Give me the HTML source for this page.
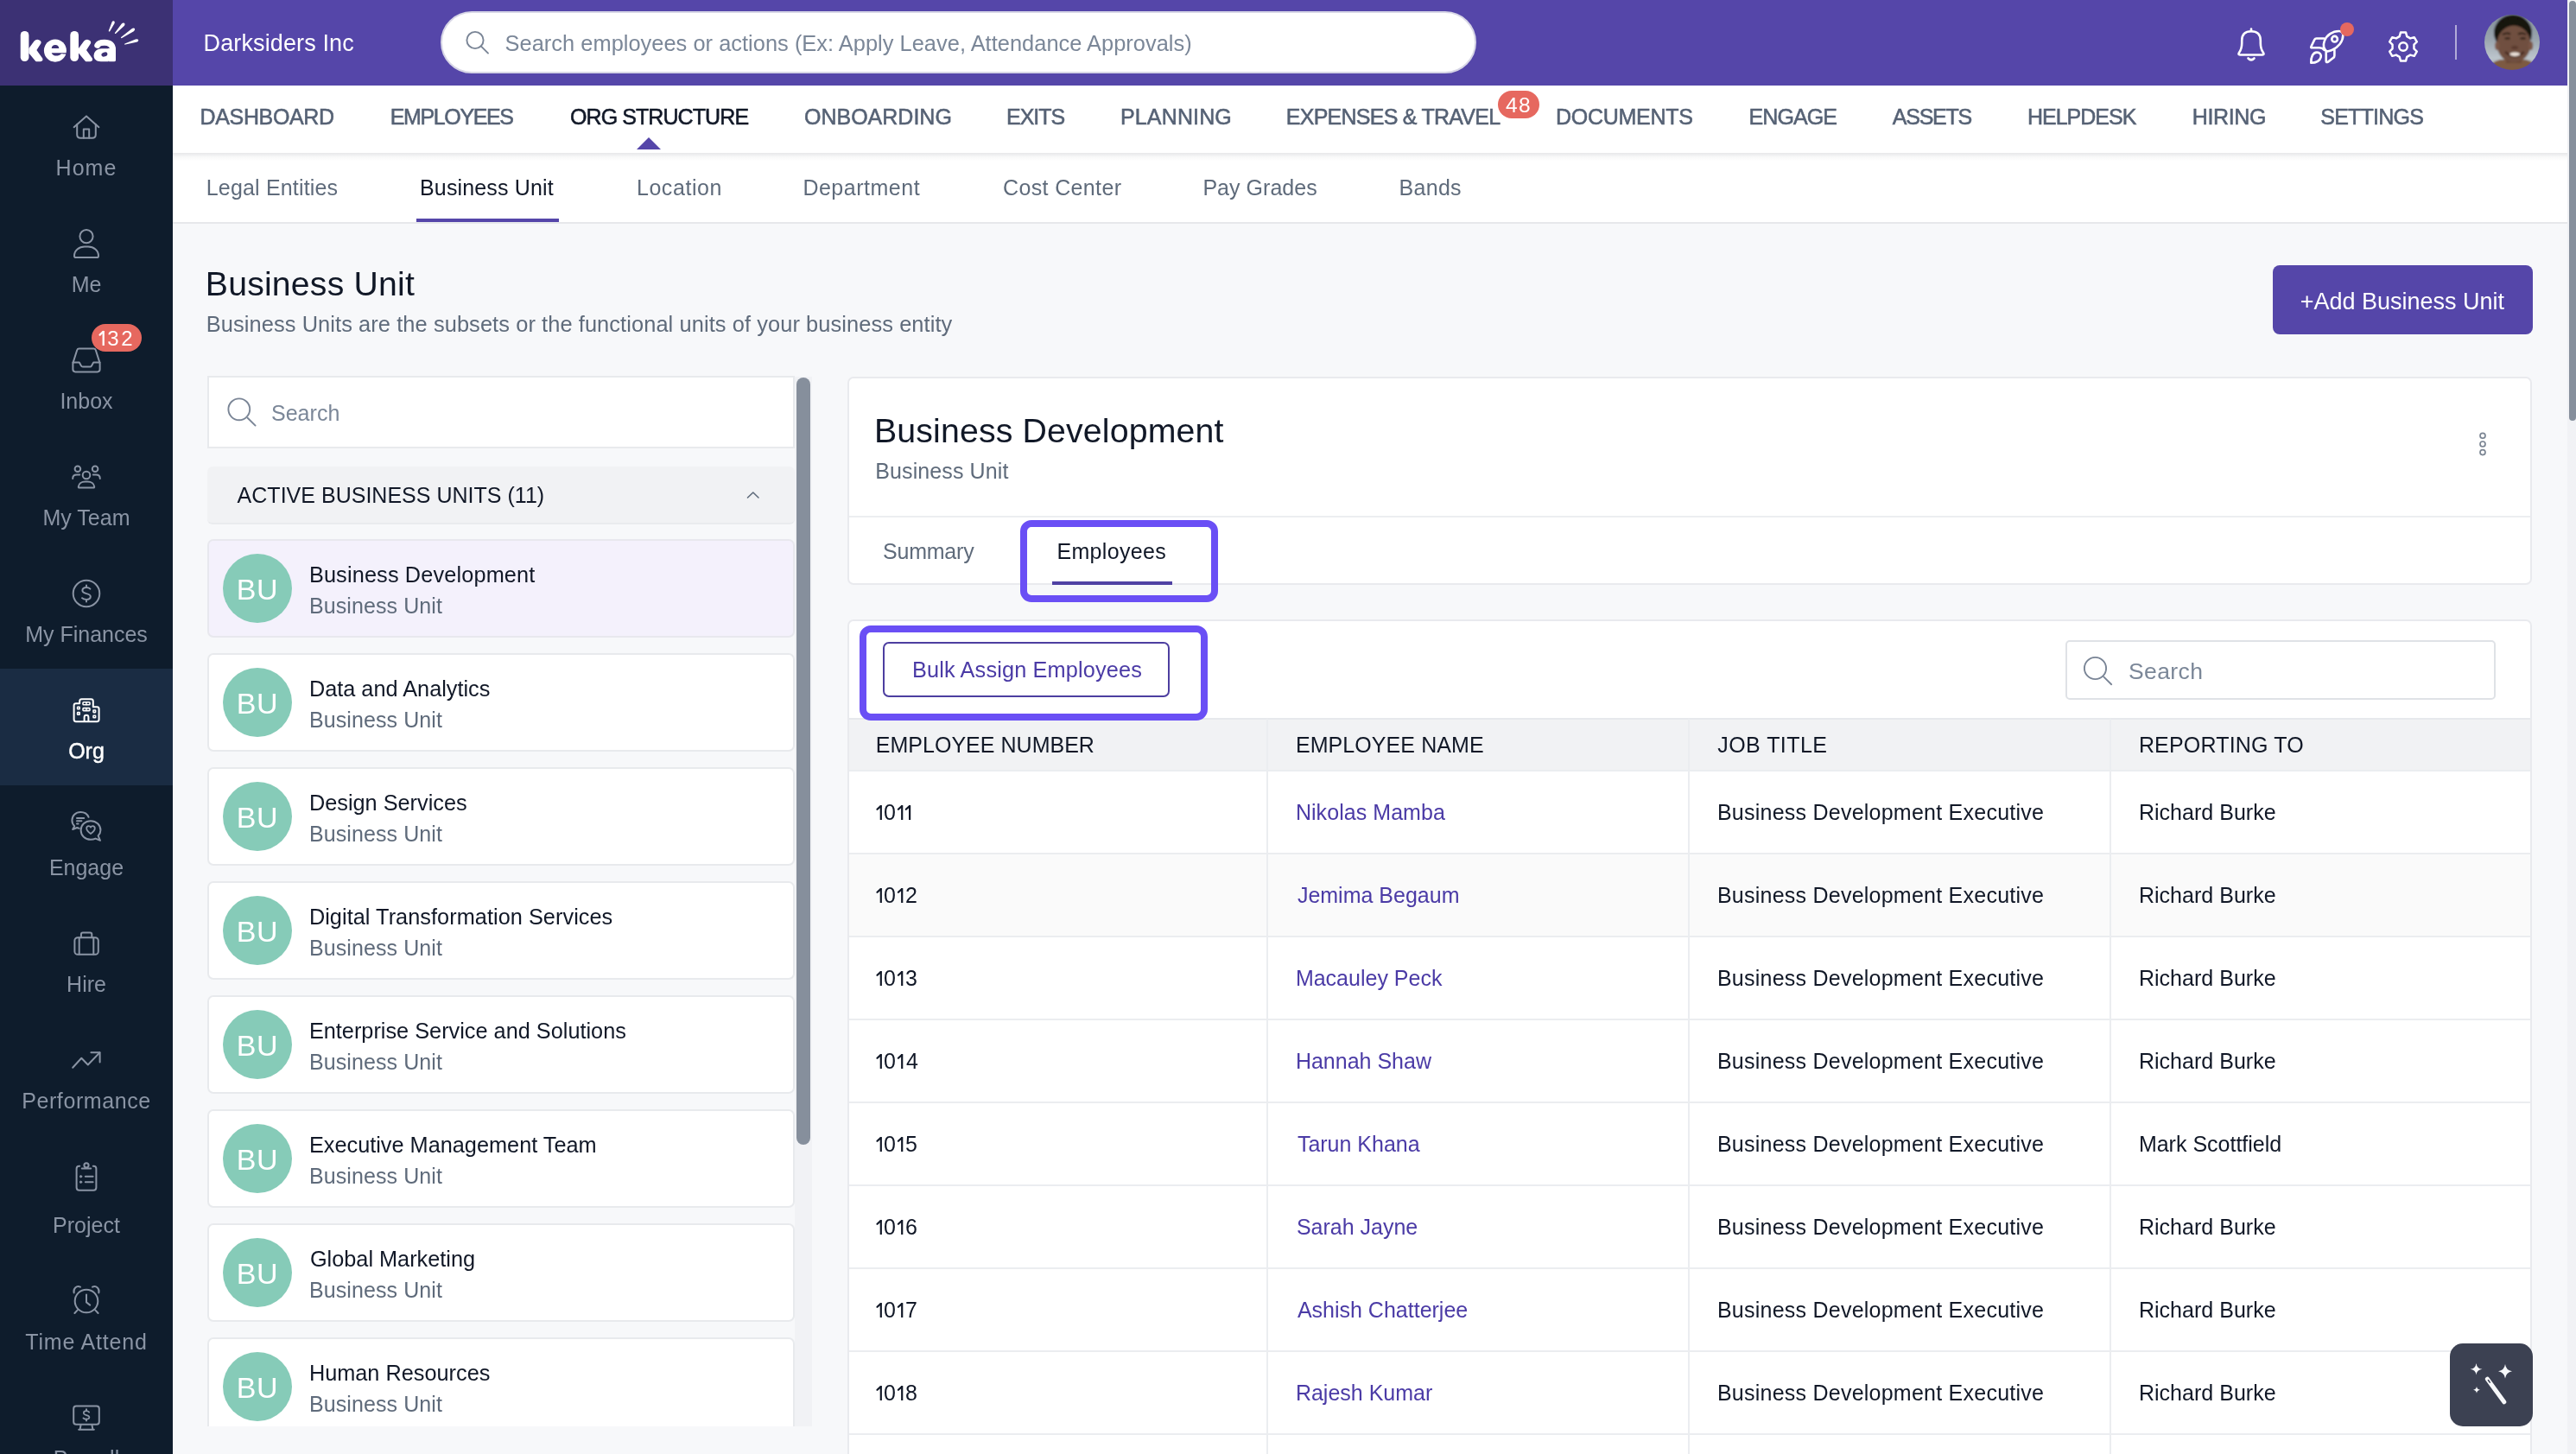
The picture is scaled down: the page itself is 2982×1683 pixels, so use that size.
<!DOCTYPE html>
<html><head><meta charset="utf-8"><title>Business Unit - Keka</title>
<style>
html,body{margin:0;padding:0;}
body{width:2982px;height:1683px;position:relative;overflow:hidden;background:#f7f8fa;font-family:"Liberation Sans",sans-serif;}
.t{position:absolute;white-space:pre;font-family:"Liberation Sans",sans-serif;}
.z3{z-index:3;}
.nav{z-index:3;font-size:25px;line-height:25px;letter-spacing:-0.45px;-webkit-text-stroke:0.55px currentColor;}
</style></head><body>
<div id="root" style="position:absolute;left:0;top:0;width:2982px;height:1683px;overflow:hidden;will-change:transform;background:#f7f8fa">
<div style="position:absolute;left:200px;top:99px;width:2772px;height:1584px;background:#f7f8fa"></div>
<div style="position:absolute;left:0px;top:0px;width:200px;height:99px;background:#3c3174"></div>
<div style="position:absolute;left:200px;top:0px;width:2772px;height:99px;background:#5546a9"></div>
<svg style="position:absolute;left:0;top:0" width="200" height="99" viewBox="0 0 200 99">
<g fill="#fff">
<rect x="23.7" y="35.9" width="9.7" height="35.2" rx="4.85"/>
<path d="M33.4,55.9 L39.6,47.6 Q41.6,45.3 44.3,45.9 Q48.6,47.2 47.4,50.2 L42.4,58.1 L49.2,67.6 Q50.4,70.8 46.8,71.3 L43.2,71.3 Q41.6,71.2 40.9,70.4 L33.4,61.4 Z"/>
<rect x="81.3" y="35.9" width="9.7" height="35.2" rx="4.85"/>
<path d="M91,55.9 L97.2,47.6 Q99.2,45.3 101.9,45.9 Q106.2,47.2 105,50.2 L100,58.1 L106.8,67.6 Q108,70.8 104.4,71.3 L100.8,71.3 Q99.2,71.2 98.5,70.4 L91,61.4 Z"/>
<ellipse cx="63.9" cy="58.6" rx="13" ry="13.1"/>
<path d="M108.6,64.6 C108.6,60 112,56.5 117.5,56.3 H125.5 V71.3 H116.6 C111.8,71.3 108.6,68.6 108.6,64.6 Z"/>
<path d="M125,56 H134 V69.4 Q134,71.3 132,71.3 H127 Q125.2,71.3 125,69.4 Z"/>
</g>
<path d="M112.8,52.4 C113.8,50.3 116.4,49.2 121,49.2 C127,49.2 130.5,52 130.5,57.2 V60" fill="none" stroke="#fff" stroke-width="7" stroke-linecap="round"/>
<g fill="#3c3174">
<path d="M59.7,56.1 H68.3 C68.3,53.6 66.4,52 64,52 C61.6,52 59.7,53.6 59.7,56.1 Z"/>
<path d="M59.7,61.2 H79 V62.4 H73.5 C72,62.4 71.2,62.1 70.6,62.5 C69.2,63.9 67.4,64.6 65.3,64.6 C62.6,64.6 60.6,63.3 59.7,61.2 Z"/>
<ellipse cx="120.9" cy="63" rx="3.6" ry="2.5" transform="rotate(-22 120.9 63)"/>
</g>
<g fill="#fff">
<path d="M126.2,36.6 Q125.6,36.6 125.8,35.6 L129.6,25.6 Q130.6,23.6 132.2,24.6 Q133.2,25.4 132.6,27 L127.2,36.2 Q126.8,36.7 126.2,36.6 Z"/>
<path d="M133.2,39 Q132.6,38.8 133,38 L140.6,27.8 Q142.4,25.8 144,26.8 Q145.2,28 144,29.8 L134.2,38.8 Q133.7,39.2 133.2,39 Z"/>
<path d="M140.2,44.1 Q139.6,43.8 140.2,43.1 L152.2,33.4 Q154.6,31.6 156,33 Q156.8,34.6 154.8,36.2 L141.2,44 Q140.6,44.3 140.2,44.1 Z"/>
<path d="M144.3,51.4 Q143.8,50.9 144.5,50.5 L156.8,45.6 Q159.6,44.8 160.2,46.4 Q160.4,48 158,48.8 L145.2,51.6 Q144.6,51.7 144.3,51.4 Z"/>
</g>
</svg>
<div class="t" style="left:235.50px;top:37.00px;font-size:27px;line-height:27px;color:#fff;letter-spacing:0.131px;text-align:left;">Darksiders Inc</div>
<div style="position:absolute;left:510px;top:13px;width:1199px;height:72px;background:#fff;border:2px solid #d7d6e6;border-radius:36px;box-sizing:border-box"></div>
<svg style="position:absolute;left:530px;top:28px" width="44" height="44" viewBox="530 28 44 44">
<g fill="none" stroke="#7a8596" stroke-width="1.9" stroke-linecap="round">
<circle cx="550" cy="46.5" r="9.6"/><path d="M557,53.6 L565,61.6"/></g></svg>
<div class="t" style="left:584.60px;top:38.00px;font-size:25.4px;line-height:25.4px;color:#7b8798;letter-spacing:0.029px;text-align:left;">Search employees or actions (Ex: Apply Leave, Attendance Approvals)</div>
<svg style="position:absolute;left:2570px;top:0" width="402" height="99" viewBox="2570 0 402 99">
<g fill="none" stroke="#fff" stroke-width="2.6" stroke-linecap="round" stroke-linejoin="round">
<path d="M2606,33.5 V36"/>
<path d="M2593,63.5 H2619 Q2621.5,63.5 2620,61 Q2616.8,56.5 2616.8,50 V47 Q2616.8,36.3 2606,36.3 Q2595.2,36.3 2595.2,47 V50 Q2595.2,56.5 2592,61 Q2590.5,63.5 2593,63.5 Z"/>
<path d="M2602.5,67.5 Q2606,71 2609.5,67.5"/>
<path d="M2693.3,59.6 C2689.6,56.4 2689.2,51.8 2690.8,47.4 C2693.3,40.6 2700.2,36 2707.6,36 C2710.6,36 2712.3,37.8 2712.3,40.8 C2712.3,48.2 2706.8,55 2699.4,58 C2697.3,58.9 2695.3,59.4 2693.3,59.6 Z"/>
<circle cx="2702.6" cy="45.2" r="3.3"/>
<path d="M2690.2,44.5 H2681.6 Q2680,44.5 2679.3,45.9 L2675.4,54 Q2674.8,55.3 2676.3,55.3 H2684.8 Q2688.4,55.4 2690.6,57.8"/>
<path d="M2702.4,57.8 V64.6 Q2702.4,66.2 2700.9,67 L2695,71.6 Q2692.7,72.9 2692.7,70.6 V60"/>
<path d="M2675.3,72.7 C2675.1,66.2 2677.4,60.6 2682,60.6 C2685.4,60.6 2687.5,63.1 2686.6,66.3 C2685.2,70.9 2680.2,72.7 2675.3,72.7 Z"/>
</g>
<circle cx="2717" cy="34" r="8" fill="#e6685f"/>
<g fill="none" stroke="#fff" stroke-width="2.6" stroke-linejoin="round" transform="translate(2782 54) scale(0.95) translate(-2782 -54.5)">
<path d="M2778.8,37.2 L2785.2,37.2 L2786.5,42 L2790.6,44.4 L2795.4,43.1 L2798.6,48.6 L2795.1,52.1 L2795.1,56.9 L2798.6,60.4 L2795.4,65.9 L2790.6,64.6 L2786.5,67 L2785.2,71.8 L2778.8,71.8 L2777.5,67 L2773.4,64.6 L2768.6,65.9 L2765.4,60.4 L2768.9,56.9 L2768.9,52.1 L2765.4,48.6 L2768.6,43.1 L2773.4,44.4 L2777.5,42 Z"/>
<circle cx="2782" cy="54.5" r="5"/>
</g>
<path d="M2843,29 V69" stroke="rgba(255,255,255,0.55)" stroke-width="2"/>
</svg>
<svg style="position:absolute;left:2876px;top:17px" width="64" height="64" viewBox="0 0 64 64">
<defs><clipPath id="avc"><circle cx="32" cy="32" r="32"/></clipPath>
<linearGradient id="avbg" x1="0" y1="0" x2="0" y2="1"><stop offset="0" stop-color="#7f8b96"/><stop offset="0.45" stop-color="#9aa5ae"/><stop offset="0.75" stop-color="#bcc5cc"/><stop offset="1" stop-color="#9ea6ad"/></linearGradient>
<filter id="avb" x="-10%" y="-10%" width="120%" height="120%"><feGaussianBlur stdDeviation="1"/></filter></defs>
<g clip-path="url(#avc)"><g filter="url(#avb)">
<rect x="-4" y="-4" width="72" height="72" fill="url(#avbg)"/>
<path d="M2,66 Q6,55 18,52 H48 Q60,55 64,66 Z" fill="#7d5a42"/>
<rect x="25" y="46" width="18" height="10" fill="#694636"/>
<ellipse cx="33" cy="21" rx="22" ry="21" fill="#15120f"/>
<ellipse cx="34" cy="34" rx="19.5" ry="21.5" fill="#70503f"/>
<ellipse cx="14.8" cy="36" rx="2.6" ry="5" fill="#7a5646"/>
<ellipse cx="53.6" cy="36" rx="2.6" ry="5" fill="#7a5646"/>
<path d="M13.5,30 Q12,6 33,4 Q54,5 54.5,30 Q52,15 43,12 Q34,9.6 26,11.4 Q17,14 13.5,30 Z" fill="#15120f"/>
<path d="M21,23 Q26,20.5 30,22.5 M39,22.5 Q44,20.5 48,23" stroke="#2a1a12" stroke-width="2" fill="none"/>
<ellipse cx="26.6" cy="27.4" rx="3.2" ry="1.2" fill="#2a1a12"/>
<ellipse cx="44.6" cy="27.4" rx="3.2" ry="1.2" fill="#2a1a12"/>
<ellipse cx="35" cy="38" rx="4" ry="2" fill="#5a3a2e"/>
<path d="M24,43 Q35,53 46,43" stroke="#4a2c22" stroke-width="2.5" fill="none"/>
<ellipse cx="35.2" cy="45.8" rx="6" ry="2.2" fill="#ece2da"/>
</g></g></svg>
<div style="position:absolute;left:0px;top:99px;width:200px;height:1584px;background:#0e1c2c"></div>
<div style="position:absolute;left:0px;top:774px;width:200px;height:135px;background:#1a2c43"></div>
<div class="t" style="left:0.00px;top:182.00px;font-size:25px;line-height:25px;color:#8a94a4;letter-spacing:1.033px;width:200px;text-align:center;">Home</div>
<div class="t" style="left:0.00px;top:317.00px;font-size:25px;line-height:25px;color:#8a94a4;width:200px;text-align:center;">Me</div>
<div class="t" style="left:0.00px;top:452.00px;font-size:25px;line-height:25px;color:#8a94a4;width:200px;text-align:center;">Inbox</div>
<div class="t" style="left:0.00px;top:587.00px;font-size:25px;line-height:25px;color:#8a94a4;width:200px;text-align:center;">My Team</div>
<div class="t" style="left:0.00px;top:722.00px;font-size:25px;line-height:25px;color:#8a94a4;width:200px;text-align:center;">My Finances</div>
<div class="t" style="left:0.00px;top:857.00px;font-size:25px;line-height:25px;color:#ffffff;-webkit-text-stroke:0.45px #ffffff;width:200px;text-align:center;">Org</div>
<div class="t" style="left:0.00px;top:992.00px;font-size:25px;line-height:25px;color:#8a94a4;width:200px;text-align:center;">Engage</div>
<div class="t" style="left:0.00px;top:1127.00px;font-size:25px;line-height:25px;color:#8a94a4;width:200px;text-align:center;">Hire</div>
<div class="t" style="left:0.00px;top:1262.00px;font-size:25px;line-height:25px;color:#8a94a4;letter-spacing:0.600px;width:200px;text-align:center;">Performance</div>
<div class="t" style="left:0.00px;top:1406.00px;font-size:25px;line-height:25px;color:#8a94a4;width:200px;text-align:center;">Project</div>
<div class="t" style="left:0.00px;top:1541.00px;font-size:25px;line-height:25px;color:#8a94a4;letter-spacing:0.800px;width:200px;text-align:center;">Time Attend</div>
<div class="t" style="left:0.00px;top:1676.00px;font-size:25px;line-height:25px;color:#8a94a4;width:200px;text-align:center;">Payroll</div>
<svg style="position:absolute;left:0;top:0" width="200" height="1683" viewBox="0 0 200 1683">
<g fill="none" stroke="#8a94a4" stroke-width="2" stroke-linecap="round" stroke-linejoin="round">
<!-- home -->
<path d="M85.6,147.2 L100,134.4 L114.4,147.2"/>
<path d="M89.2,144 V155.8 Q89.2,159.8 93.2,159.8 H106.8 Q110.8,159.8 110.8,155.8 V144"/>
<path d="M96.8,159.8 V149.6 H103.2 V159.8"/>
<!-- me -->
<circle cx="100" cy="273.6" r="7.6"/>
<path d="M87.6,298 H112.4 Q114,298 114,296.2 C114,290 108.5,285.6 102,285.6 H98 C91.5,285.6 86,290 86,296.2 Q86,298 87.6,298 Z"/>
<!-- inbox -->
<path d="M84.6,419.6 L89.2,405.2 Q89.8,403.4 91.6,403.4 H108.4 Q110.2,403.4 110.8,405.2 L115.4,419.6"/>
<path d="M84.4,419.6 V427.6 Q84.4,430.4 87.2,430.4 H112.8 Q115.6,430.4 115.6,427.6 V419.6 H108.2 L106,423.4 Q105.4,424.4 104.2,424.4 H95.8 Q94.6,424.4 94,423.4 L91.8,419.6 Z"/>
<!-- my team -->
<circle cx="100" cy="550" r="4.3"/>
<circle cx="89.9" cy="542.8" r="3.3"/>
<circle cx="110.1" cy="542.8" r="3.3"/>
<path d="M91.8,564.6 H108.2 Q109.3,564.6 109.2,563.4 C108.8,559.8 105.5,557.6 101.5,557.6 H98.5 C94.5,557.6 91.2,559.8 90.8,563.4 Q90.7,564.6 91.8,564.6 Z"/>
<path d="M84.2,554 C84.2,551.2 86.2,549.6 89,549.6 H92.2"/>
<path d="M115.8,554 C115.8,551.2 113.8,549.6 111,549.6 H107.8"/>
<!-- finances -->
<circle cx="100" cy="687" r="15.3"/>
<path d="M100,677.6 V680 M100,694 V696.4"/>
<path d="M104.4,681.6 C103.4,680.6 101.8,680 100,680 C97.4,680 95.4,681.4 95.4,683.6 C95.4,688.4 104.8,685.8 104.8,690.6 C104.8,692.8 102.8,694 100,694 C98,694 96,693.4 95,692.2"/>
<!-- engage -->
<path d="M102.6,945.8 C101,942 97.5,940 93.3,940 C87.6,940 83.4,944.2 83.4,949.6 C83.4,952.4 84.4,954.6 86.2,956.2 L84.2,960 L89.2,958 Q90.4,958.6 91.6,958.8"/>
<path d="M89,947 H97.2 M89,950.3 H94.4 M89,953.6 H90.6"/>
<path d="M116,972.8 L113.6,967.4 C115.4,965.6 116.4,963.4 116.4,961 C116.4,954.8 111.4,950.2 105,950.2 C98.6,950.2 93.6,954.8 93.6,961 C93.6,967.2 98.6,971.8 105,971.8 C107,971.8 109,971.4 110.6,970.6 Z"/>
<path d="M105,965 C102.5,963.3 100.2,961.4 100.2,958.8 C100.2,957.2 101.4,956.2 102.7,956.2 C103.8,956.2 104.6,956.8 105,957.6 C105.4,956.8 106.2,956.2 107.3,956.2 C108.6,956.2 109.8,957.2 109.8,958.8 C109.8,961.4 107.5,963.3 105,965 Z" stroke-width="1.8"/>
<!-- hire -->
<rect x="86.4" y="1085.2" width="27.4" height="19.6" rx="3.6"/>
<path d="M93.9,1085.2 V1081.6 Q93.9,1079.6 95.9,1079.6 H104.3 Q106.3,1079.6 106.3,1081.6 V1085.2"/>
<path d="M91.7,1085.4 V1104.6 M108.3,1085.4 V1104.6"/>
<!-- performance -->
<path d="M84.2,1235.8 L94.3,1224.8 L101.8,1232.5 L115.4,1218.4"/>
<path d="M105.4,1218.2 H115.6 V1229.4"/>
<!-- project -->
<path d="M92.2,1349.8 H91.6 Q88.6,1349.8 88.6,1352.8 V1374.6 Q88.6,1377.8 91.8,1377.8 H108.2 Q111.4,1377.8 111.4,1374.6 V1352.8 Q111.4,1349.8 108.4,1349.8 H107.8"/>
<circle cx="100" cy="1348.8" r="2.6"/>
<path d="M94.8,1352.6 H105.2"/>
<path d="M98.8,1361.8 H107.6 M98.8,1368.2 H107.6"/>
<circle cx="93.6" cy="1361.8" r="1.2" fill="#8a94a4" stroke-width="0.8"/>
<circle cx="93.6" cy="1368.2" r="1.2" fill="#8a94a4" stroke-width="0.8"/>
<!-- time attend -->
<circle cx="100" cy="1506" r="13.3"/>
<path d="M85.6,1496.4 C84.6,1491.6 88.4,1487.6 93,1489.6"/>
<path d="M114.4,1496.4 C115.4,1491.6 111.6,1487.6 107,1489.6"/>
<path d="M86.4,1520 L89.8,1516.4 M113.6,1520 L110.2,1516.4"/>
<path d="M100,1498.4 V1507.4 L104.2,1510.6"/>
<!-- payroll -->
<rect x="85.2" y="1627.4" width="29.6" height="21.4" rx="3"/>
<path d="M93.6,1649 L92.6,1654.6 M106.4,1649 L107.4,1654.6 M91.2,1654.8 H108.8"/>
<path d="M100,1631.2 V1633 M100,1642.6 V1644.4"/>
<path d="M103.2,1634.6 C102.4,1633.6 101.2,1633.2 100,1633.2 C98.2,1633.2 96.8,1634.2 96.8,1635.6 C96.8,1639 103.4,1637.2 103.4,1640.6 C103.4,1642 102,1642.8 100,1642.8 C98.6,1642.8 97.2,1642.4 96.4,1641.4" stroke-width="1.7"/>
</g>
<!-- org (active, white) -->
<g fill="none" stroke="#ffffff" stroke-width="2" stroke-linecap="round" stroke-linejoin="round">
<path d="M88,835.2 H112.2 Q114.6,835.2 114.6,832.8 V820.6 Q114.6,818.2 112.2,818.2 H107.8 V811.6 Q107.8,809.2 105.4,809.2 H94.6 Q92.2,809.2 92.2,811.6 V814.2 H88 Q85.6,814.2 85.6,816.6 V832.8 Q85.6,835.2 88,835.2 Z"/>
<rect x="96" y="812.8" width="8" height="3" rx="0.8" stroke-width="1.6"/>
<rect x="96" y="819.6" width="8" height="3" rx="0.8" stroke-width="1.6"/>
<path d="M100,812.8 V815.8 M100,819.6 V822.6" stroke-width="1.4"/>
<rect x="89.6" y="818.2" width="2.6" height="2.6" rx="0.5" stroke-width="1.6"/>
<rect x="89.6" y="824.6" width="2.6" height="2.6" rx="0.5" stroke-width="1.6"/>
<rect x="108" y="822" width="2.6" height="2.6" rx="0.5" stroke-width="1.6"/>
<rect x="108" y="828.2" width="2.6" height="2.6" rx="0.5" stroke-width="1.6"/>
<path d="M97.6,835 V830.2 Q97.6,827.8 100,827.8 Q102.4,827.8 102.4,830.2 V835"/>
</g>
</svg>
<div style="position:absolute;left:105.5px;top:375px;width:58.5px;height:32px;border-radius:16px;background:#e6685f"></div>
<svg style="position:absolute;left:105px;top:375px" width="20" height="32" viewBox="105 375 20 32"><g fill="none" stroke="#fff" stroke-width="2.3"><path d="M119.7,383 V400"/><path d="M119.4,384 L115.6,387.6" stroke-linecap="round"/></g></svg>
<div class="t" style="left:124.20px;top:380.00px;font-size:24px;line-height:24px;color:#fff;text-align:left;">3</div>
<div class="t" style="left:140.20px;top:380.00px;font-size:24px;line-height:24px;color:#fff;text-align:left;">2</div>
<div style="position:absolute;left:200px;top:99px;width:2772px;height:78px;background:#fff;z-index:2"></div>
<div style="position:absolute;left:200px;top:177px;width:2772px;height:9px;background:linear-gradient(rgba(20,25,40,0.10),rgba(20,25,40,0.03) 50%,rgba(20,25,40,0));z-index:2"></div>
<div class="t" style="left:231.60px;top:123.00px;font-size:25px;line-height:25px;color:#566275;letter-spacing:-0.363px;-webkit-text-stroke:0.55px #566275;text-align:left;z-index:3;">DASHBOARD</div>
<div class="t" style="left:451.70px;top:123.00px;font-size:25px;line-height:25px;color:#566275;letter-spacing:-1.363px;-webkit-text-stroke:0.55px #566275;text-align:left;z-index:3;">EMPLOYEES</div>
<div class="t" style="left:660.00px;top:123.00px;font-size:25px;line-height:25px;color:#111827;letter-spacing:-0.917px;-webkit-text-stroke:0.55px #111827;text-align:left;z-index:3;">ORG STRUCTURE</div>
<div class="t" style="left:931.00px;top:123.00px;font-size:25px;line-height:25px;color:#566275;-webkit-text-stroke:0.55px #566275;text-align:left;z-index:3;">ONBOARDING</div>
<div class="t" style="left:1165.00px;top:123.00px;font-size:25px;line-height:25px;color:#566275;letter-spacing:-1.000px;-webkit-text-stroke:0.55px #566275;text-align:left;z-index:3;">EXITS</div>
<div class="t" style="left:1297.00px;top:123.00px;font-size:25px;line-height:25px;color:#566275;letter-spacing:0.143px;-webkit-text-stroke:0.55px #566275;text-align:left;z-index:3;">PLANNING</div>
<div class="t" style="left:1488.80px;top:123.00px;font-size:25px;line-height:25px;color:#566275;letter-spacing:-0.750px;-webkit-text-stroke:0.55px #566275;text-align:left;z-index:3;">EXPENSES &amp; TRAVEL</div>
<div class="t" style="left:1801.00px;top:123.00px;font-size:25px;line-height:25px;color:#566275;letter-spacing:-0.275px;-webkit-text-stroke:0.55px #566275;text-align:left;z-index:3;">DOCUMENTS</div>
<div class="t" style="left:2024.50px;top:123.00px;font-size:25px;line-height:25px;color:#566275;letter-spacing:-0.920px;-webkit-text-stroke:0.55px #566275;text-align:left;z-index:3;">ENGAGE</div>
<div class="t" style="left:2190.80px;top:123.00px;font-size:25px;line-height:25px;color:#566275;letter-spacing:-1.240px;-webkit-text-stroke:0.55px #566275;text-align:left;z-index:3;">ASSETS</div>
<div class="t" style="left:2346.90px;top:123.00px;font-size:25px;line-height:25px;color:#566275;letter-spacing:-0.986px;-webkit-text-stroke:0.55px #566275;text-align:left;z-index:3;">HELPDESK</div>
<div class="t" style="left:2537.70px;top:123.00px;font-size:25px;line-height:25px;color:#566275;letter-spacing:-0.340px;-webkit-text-stroke:0.55px #566275;text-align:left;z-index:3;">HIRING</div>
<div class="t" style="left:2686.30px;top:123.00px;font-size:25px;line-height:25px;color:#566275;letter-spacing:-0.786px;-webkit-text-stroke:0.55px #566275;text-align:left;z-index:3;">SETTINGS</div>
<div class="z3" style="position:absolute;left:737px;top:159px;width:0;height:0;border-left:14px solid transparent;border-right:14px solid transparent;border-bottom:14px solid #5546a9"></div>
<div class="z3" style="position:absolute;left:1734px;top:105px;width:48px;height:32px;border-radius:16px;background:#e6685f"></div>
<div class="t" style="left:1734.00px;top:110.00px;font-size:24.5px;line-height:24.5px;color:#fff;letter-spacing:1.300px;width:48px;text-align:center;z-index:3;">48</div>
<div style="position:absolute;left:200px;top:177px;width:2772px;height:80px;background:#fff"></div>
<div style="position:absolute;left:200px;top:257px;width:2772px;height:2px;background:#e6e8eb"></div>
<div class="t" style="left:238.80px;top:205.00px;font-size:25px;line-height:25px;color:#5f6b7b;letter-spacing:0.169px;text-align:left;">Legal Entities</div>
<div class="t" style="left:486.00px;top:205.00px;font-size:25px;line-height:25px;color:#111827;letter-spacing:0.150px;text-align:left;">Business Unit</div>
<div class="t" style="left:736.90px;top:205.00px;font-size:25px;line-height:25px;color:#5f6b7b;letter-spacing:0.586px;text-align:left;">Location</div>
<div class="t" style="left:929.40px;top:205.00px;font-size:25px;line-height:25px;color:#5f6b7b;letter-spacing:0.511px;text-align:left;">Department</div>
<div class="t" style="left:1161.00px;top:205.00px;font-size:25px;line-height:25px;color:#5f6b7b;letter-spacing:0.360px;text-align:left;">Cost Center</div>
<div class="t" style="left:1392.40px;top:205.00px;font-size:25px;line-height:25px;color:#5f6b7b;letter-spacing:0.033px;text-align:left;">Pay Grades</div>
<div class="t" style="left:1619.50px;top:205.00px;font-size:25px;line-height:25px;color:#5f6b7b;letter-spacing:0.300px;text-align:left;">Bands</div>
<div style="position:absolute;left:482px;top:253px;width:165px;height:4px;background:#5546a9"></div>
<div class="t" style="left:237.80px;top:309.00px;font-size:39.2px;line-height:39.2px;color:#111827;letter-spacing:0.208px;text-align:left;">Business Unit</div>
<div class="t" style="left:238.80px;top:363.00px;font-size:25.4px;line-height:25.4px;color:#5f6b7b;letter-spacing:0.088px;text-align:left;">Business Units are the subsets or the functional units of your business entity</div>
<div style="position:absolute;left:2631px;top:307px;width:301px;height:80px;background:#5546a9;border-radius:8px"></div>
<div class="t" style="left:2662.70px;top:336.00px;font-size:27px;line-height:27px;color:#fff;letter-spacing:-0.006px;text-align:left;">+Add Business Unit</div>
<div style="position:absolute;left:240px;top:435px;width:680px;height:84px;background:#fff;border:2px solid #e8eaed;box-sizing:border-box"></div>
<svg style="position:absolute;left:258px;top:455px" width="45" height="45" viewBox="258 455 45 45">
<g fill="none" stroke="#7a8596" stroke-width="1.9" stroke-linecap="round">
<circle cx="276.8" cy="473.8" r="12.4"/><path d="M286.6,483.8 L295.6,492.6"/></g></svg>
<div class="t" style="left:314.00px;top:466.00px;font-size:25px;line-height:25px;color:#7b8798;letter-spacing:0.020px;text-align:left;">Search</div>
<div style="position:absolute;left:240px;top:539.5px;width:680px;height:67px;background:#f1f2f4;border-radius:6px;border-bottom:2px solid #e9ebee;box-sizing:border-box"></div>
<div class="t" style="left:274.60px;top:561.00px;font-size:25px;line-height:25px;color:#111827;letter-spacing:0.016px;text-align:left;">ACTIVE BUSINESS UNITS (11)</div>
<svg style="position:absolute;left:860px;top:562px" width="24" height="16" viewBox="860 562 24 16">
<path d="M865.5,576 L871.8,570 L878,576" fill="none" stroke="#5f6b7b" stroke-width="1.6" stroke-linecap="round" stroke-linejoin="round"/></svg>
<div style="position:absolute;left:240px;top:624px;width:680px;height:114px;background:#f4f1fc;border:2px solid #e8e8ee;border-radius:7px;box-sizing:border-box"></div>
<div style="position:absolute;left:258px;top:641px;width:80px;height:80px;background:#86cbb8;border-radius:50%"></div>
<div class="t" style="left:258.00px;top:665.00px;font-size:34px;line-height:34px;color:#fff;letter-spacing:0.600px;width:80px;text-align:center;">BU</div>
<div class="t" style="left:357.90px;top:653.00px;font-size:25.3px;line-height:25.3px;color:#111827;letter-spacing:0.142px;text-align:left;">Business Development</div>
<div class="t" style="left:357.90px;top:689.00px;font-size:25px;line-height:25px;color:#5f6b7b;letter-spacing:0.100px;text-align:left;">Business Unit</div>
<div style="position:absolute;left:240px;top:756px;width:680px;height:114px;background:#fff;border:2px solid #e8eaed;border-radius:7px;box-sizing:border-box"></div>
<div style="position:absolute;left:258px;top:773px;width:80px;height:80px;background:#86cbb8;border-radius:50%"></div>
<div class="t" style="left:258.00px;top:797.00px;font-size:34px;line-height:34px;color:#fff;letter-spacing:0.600px;width:80px;text-align:center;">BU</div>
<div class="t" style="left:357.90px;top:785.00px;font-size:25.3px;line-height:25.3px;color:#111827;text-align:left;">Data and Analytics</div>
<div class="t" style="left:357.90px;top:821.00px;font-size:25px;line-height:25px;color:#5f6b7b;letter-spacing:0.100px;text-align:left;">Business Unit</div>
<div style="position:absolute;left:240px;top:888px;width:680px;height:114px;background:#fff;border:2px solid #e8eaed;border-radius:7px;box-sizing:border-box"></div>
<div style="position:absolute;left:258px;top:905px;width:80px;height:80px;background:#86cbb8;border-radius:50%"></div>
<div class="t" style="left:258.00px;top:929.00px;font-size:34px;line-height:34px;color:#fff;letter-spacing:0.600px;width:80px;text-align:center;">BU</div>
<div class="t" style="left:357.90px;top:917.00px;font-size:25.3px;line-height:25.3px;color:#111827;text-align:left;">Design Services</div>
<div class="t" style="left:357.90px;top:953.00px;font-size:25px;line-height:25px;color:#5f6b7b;letter-spacing:0.100px;text-align:left;">Business Unit</div>
<div style="position:absolute;left:240px;top:1020px;width:680px;height:114px;background:#fff;border:2px solid #e8eaed;border-radius:7px;box-sizing:border-box"></div>
<div style="position:absolute;left:258px;top:1037px;width:80px;height:80px;background:#86cbb8;border-radius:50%"></div>
<div class="t" style="left:258.00px;top:1061.00px;font-size:34px;line-height:34px;color:#fff;letter-spacing:0.600px;width:80px;text-align:center;">BU</div>
<div class="t" style="left:357.90px;top:1049.00px;font-size:25.3px;line-height:25.3px;color:#111827;letter-spacing:0.043px;text-align:left;">Digital Transformation Services</div>
<div class="t" style="left:357.90px;top:1085.00px;font-size:25px;line-height:25px;color:#5f6b7b;letter-spacing:0.100px;text-align:left;">Business Unit</div>
<div style="position:absolute;left:240px;top:1152px;width:680px;height:114px;background:#fff;border:2px solid #e8eaed;border-radius:7px;box-sizing:border-box"></div>
<div style="position:absolute;left:258px;top:1169px;width:80px;height:80px;background:#86cbb8;border-radius:50%"></div>
<div class="t" style="left:258.00px;top:1193.00px;font-size:34px;line-height:34px;color:#fff;letter-spacing:0.600px;width:80px;text-align:center;">BU</div>
<div class="t" style="left:357.90px;top:1181.00px;font-size:25.3px;line-height:25.3px;color:#111827;text-align:left;">Enterprise Service and Solutions</div>
<div class="t" style="left:357.90px;top:1217.00px;font-size:25px;line-height:25px;color:#5f6b7b;letter-spacing:0.100px;text-align:left;">Business Unit</div>
<div style="position:absolute;left:240px;top:1284px;width:680px;height:114px;background:#fff;border:2px solid #e8eaed;border-radius:7px;box-sizing:border-box"></div>
<div style="position:absolute;left:258px;top:1301px;width:80px;height:80px;background:#86cbb8;border-radius:50%"></div>
<div class="t" style="left:258.00px;top:1325.00px;font-size:34px;line-height:34px;color:#fff;letter-spacing:0.600px;width:80px;text-align:center;">BU</div>
<div class="t" style="left:357.90px;top:1313.00px;font-size:25.3px;line-height:25.3px;color:#111827;text-align:left;">Executive Management Team</div>
<div class="t" style="left:357.90px;top:1349.00px;font-size:25px;line-height:25px;color:#5f6b7b;letter-spacing:0.100px;text-align:left;">Business Unit</div>
<div style="position:absolute;left:240px;top:1416px;width:680px;height:114px;background:#fff;border:2px solid #e8eaed;border-radius:7px;box-sizing:border-box"></div>
<div style="position:absolute;left:258px;top:1433px;width:80px;height:80px;background:#86cbb8;border-radius:50%"></div>
<div class="t" style="left:258.00px;top:1457.00px;font-size:34px;line-height:34px;color:#fff;letter-spacing:0.600px;width:80px;text-align:center;">BU</div>
<div class="t" style="left:358.90px;top:1445.00px;font-size:25.3px;line-height:25.3px;color:#111827;text-align:left;">Global Marketing</div>
<div class="t" style="left:357.90px;top:1481.00px;font-size:25px;line-height:25px;color:#5f6b7b;letter-spacing:0.100px;text-align:left;">Business Unit</div>
<div style="position:absolute;left:240px;top:1548px;width:680px;height:114px;background:#fff;border:2px solid #e8eaed;border-radius:7px;box-sizing:border-box"></div>
<div style="position:absolute;left:258px;top:1565px;width:80px;height:80px;background:#86cbb8;border-radius:50%"></div>
<div class="t" style="left:258.00px;top:1589.00px;font-size:34px;line-height:34px;color:#fff;letter-spacing:0.600px;width:80px;text-align:center;">BU</div>
<div class="t" style="left:357.90px;top:1577.00px;font-size:25.3px;line-height:25.3px;color:#111827;text-align:left;">Human Resources</div>
<div class="t" style="left:357.90px;top:1613.00px;font-size:25px;line-height:25px;color:#5f6b7b;letter-spacing:0.100px;text-align:left;">Business Unit</div>
<div style="position:absolute;left:240px;top:1680px;width:680px;height:114px;background:#fff;border:2px solid #e8eaed;border-radius:7px;box-sizing:border-box"></div>
<div style="position:absolute;left:258px;top:1697px;width:80px;height:80px;background:#86cbb8;border-radius:50%"></div>
<div class="t" style="left:258.00px;top:1721.00px;font-size:34px;line-height:34px;color:#fff;letter-spacing:0.600px;width:80px;text-align:center;">BU</div>
<div class="t" style="left:357.90px;top:1709.00px;font-size:25.3px;line-height:25.3px;color:#111827;text-align:left;">Information Technology</div>
<div class="t" style="left:357.90px;top:1745.00px;font-size:25px;line-height:25px;color:#5f6b7b;letter-spacing:0.100px;text-align:left;">Business Unit</div>
<div style="position:absolute;left:240px;top:1651px;width:680px;height:32px;background:#f7f8fa"></div>
<div style="position:absolute;left:920px;top:436px;width:20px;height:1215px;background:#f1f2f5"></div>
<div style="position:absolute;left:922px;top:437px;width:16px;height:888px;background:#868f9c;border-radius:8px"></div>
<div style="position:absolute;left:981px;top:435.5px;width:1950px;height:241px;background:#fff;border:2px solid #e9eaee;border-radius:7px;box-sizing:border-box"></div>
<div class="t" style="left:1012.00px;top:479.00px;font-size:39.3px;line-height:39.3px;color:#111827;letter-spacing:0.132px;text-align:left;">Business Development</div>
<div class="t" style="left:1013.30px;top:533.00px;font-size:25px;line-height:25px;color:#5f6b7b;letter-spacing:0.100px;text-align:left;">Business Unit</div>
<svg style="position:absolute;left:2864px;top:496px" width="20" height="36" viewBox="2864 496 20 36">
<g fill="none" stroke="#7b8593" stroke-width="1.7"><circle cx="2874" cy="504.3" r="3"/><circle cx="2874" cy="514" r="3"/><circle cx="2874" cy="523.6" r="3"/></g></svg>
<div style="position:absolute;left:983px;top:597px;width:1946px;height:2px;background:#eceef1"></div>
<div class="t" style="left:1022.00px;top:626.00px;font-size:25px;line-height:25px;color:#5f6b7b;letter-spacing:-0.217px;text-align:left;">Summary</div>
<div class="t" style="left:1223.50px;top:626.00px;font-size:25px;line-height:25px;color:#111827;letter-spacing:0.312px;text-align:left;">Employees</div>
<div style="position:absolute;left:1218px;top:673px;width:139px;height:4px;background:#4f41a3"></div>
<div style="position:absolute;left:981px;top:717px;width:1950px;height:1001px;background:#fff;border:2px solid #e9eaee;border-radius:7px;box-sizing:border-box"></div>
<div style="position:absolute;left:1022px;top:743px;width:332px;height:64px;border:2px solid #4d3ea0;border-radius:7px;box-sizing:border-box;background:#fff"></div>
<div class="t" style="left:1056.00px;top:763.00px;font-size:25.3px;line-height:25.3px;color:#4b3ba6;letter-spacing:0.150px;text-align:left;">Bulk Assign Employees</div>
<div style="position:absolute;left:2391px;top:741px;width:498px;height:69px;border:2px solid #dfe2e6;border-radius:5px;box-sizing:border-box;background:#fff"></div>
<svg style="position:absolute;left:2404px;top:752px" width="46" height="46" viewBox="2404 752 46 46">
<g fill="none" stroke="#7a8596" stroke-width="1.9" stroke-linecap="round">
<circle cx="2425.5" cy="773.5" r="12.6"/><path d="M2435.2,783.4 L2444.2,792.2"/></g></svg>
<div class="t" style="left:2464.00px;top:764.00px;font-size:26.5px;line-height:26.5px;color:#7b8798;letter-spacing:0.400px;text-align:left;">Search</div>
<div style="position:absolute;left:983px;top:832px;width:1946px;height:60px;background:#f1f2f4"></div>
<div style="position:absolute;left:983px;top:831px;width:1946px;height:1.5px;background:#e7e9ec"></div>
<div class="t" style="left:1013.80px;top:850.00px;font-size:25px;line-height:25px;color:#111827;letter-spacing:0.021px;text-align:left;">EMPLOYEE NUMBER</div>
<div class="t" style="left:1499.90px;top:850.00px;font-size:25px;line-height:25px;color:#111827;letter-spacing:0.083px;text-align:left;">EMPLOYEE NAME</div>
<div class="t" style="left:1988.30px;top:850.00px;font-size:25px;line-height:25px;color:#111827;letter-spacing:0.438px;text-align:left;">JOB TITLE</div>
<div class="t" style="left:2475.90px;top:850.00px;font-size:25px;line-height:25px;color:#111827;letter-spacing:0.173px;text-align:left;">REPORTING TO</div>
<div style="position:absolute;left:983px;top:987px;width:1946px;height:2px;background:#ebedf0"></div>
<div class="t" style="left:1023.10px;top:928.00px;font-size:25px;line-height:25px;color:#111827;text-align:left;">0</div>
<svg style="position:absolute;left:1000px;top:892px" width="70" height="96" viewBox="1000 892 70 96"><g fill="none" stroke="#111827"><path d="M1019.8,932.2 V949.0" stroke-width="2.2"/><path d="M1019.6,933.1 L1015.5,936.8" stroke-width="2.2" stroke-linecap="round"/><path d="M1044.2,932.2 V949.0" stroke-width="2.2"/><path d="M1044.0,933.1 L1039.9,936.8" stroke-width="2.2" stroke-linecap="round"/><path d="M1053.1,932.2 V949.0" stroke-width="2.2"/><path d="M1052.9,933.1 L1048.8,936.8" stroke-width="2.2" stroke-linecap="round"/></g></svg>
<div class="t" style="left:1499.90px;top:928.00px;font-size:25px;line-height:25px;color:#4b3ba6;letter-spacing:0.058px;text-align:left;">Nikolas Mamba</div>
<div class="t" style="left:1987.90px;top:928.00px;font-size:25px;line-height:25px;color:#111827;letter-spacing:0.241px;text-align:left;">Business Development Executive</div>
<div class="t" style="left:2475.90px;top:928.00px;font-size:25px;line-height:25px;color:#111827;letter-spacing:0.025px;text-align:left;">Richard Burke</div>
<div style="position:absolute;left:983px;top:989px;width:1946px;height:96px;background:#fafafa"></div>
<div style="position:absolute;left:983px;top:1083px;width:1946px;height:2px;background:#ebedf0"></div>
<div class="t" style="left:1023.10px;top:1024.00px;font-size:25px;line-height:25px;color:#111827;text-align:left;">0</div>
<div class="t" style="left:1048.10px;top:1024.00px;font-size:25px;line-height:25px;color:#111827;text-align:left;">2</div>
<svg style="position:absolute;left:1000px;top:988px" width="70" height="96" viewBox="1000 988 70 96"><g fill="none" stroke="#111827"><path d="M1019.8,1028.2 V1045.0" stroke-width="2.2"/><path d="M1019.6,1029.1 L1015.5,1032.8" stroke-width="2.2" stroke-linecap="round"/><path d="M1044.2,1028.2 V1045.0" stroke-width="2.2"/><path d="M1044.0,1029.1 L1039.9,1032.8" stroke-width="2.2" stroke-linecap="round"/></g></svg>
<div class="t" style="left:1501.90px;top:1024.00px;font-size:25px;line-height:25px;color:#4b3ba6;text-align:left;">Jemima Begaum</div>
<div class="t" style="left:1987.90px;top:1024.00px;font-size:25px;line-height:25px;color:#111827;letter-spacing:0.241px;text-align:left;">Business Development Executive</div>
<div class="t" style="left:2475.90px;top:1024.00px;font-size:25px;line-height:25px;color:#111827;letter-spacing:0.025px;text-align:left;">Richard Burke</div>
<div style="position:absolute;left:983px;top:1179px;width:1946px;height:2px;background:#ebedf0"></div>
<div class="t" style="left:1023.10px;top:1120.00px;font-size:25px;line-height:25px;color:#111827;text-align:left;">0</div>
<div class="t" style="left:1048.10px;top:1120.00px;font-size:25px;line-height:25px;color:#111827;text-align:left;">3</div>
<svg style="position:absolute;left:1000px;top:1084px" width="70" height="96" viewBox="1000 1084 70 96"><g fill="none" stroke="#111827"><path d="M1019.8,1124.2 V1141.0" stroke-width="2.2"/><path d="M1019.6,1125.1 L1015.5,1128.8" stroke-width="2.2" stroke-linecap="round"/><path d="M1044.2,1124.2 V1141.0" stroke-width="2.2"/><path d="M1044.0,1125.1 L1039.9,1128.8" stroke-width="2.2" stroke-linecap="round"/></g></svg>
<div class="t" style="left:1499.90px;top:1120.00px;font-size:25px;line-height:25px;color:#4b3ba6;text-align:left;">Macauley Peck</div>
<div class="t" style="left:1987.90px;top:1120.00px;font-size:25px;line-height:25px;color:#111827;letter-spacing:0.241px;text-align:left;">Business Development Executive</div>
<div class="t" style="left:2475.90px;top:1120.00px;font-size:25px;line-height:25px;color:#111827;letter-spacing:0.025px;text-align:left;">Richard Burke</div>
<div style="position:absolute;left:983px;top:1275px;width:1946px;height:2px;background:#ebedf0"></div>
<div class="t" style="left:1023.10px;top:1216.00px;font-size:25px;line-height:25px;color:#111827;text-align:left;">0</div>
<div class="t" style="left:1049.10px;top:1216.00px;font-size:25px;line-height:25px;color:#111827;text-align:left;">4</div>
<svg style="position:absolute;left:1000px;top:1180px" width="70" height="96" viewBox="1000 1180 70 96"><g fill="none" stroke="#111827"><path d="M1019.8,1220.2 V1237.0" stroke-width="2.2"/><path d="M1019.6,1221.1 L1015.5,1224.8" stroke-width="2.2" stroke-linecap="round"/><path d="M1044.2,1220.2 V1237.0" stroke-width="2.2"/><path d="M1044.0,1221.1 L1039.9,1224.8" stroke-width="2.2" stroke-linecap="round"/></g></svg>
<div class="t" style="left:1499.90px;top:1216.00px;font-size:25px;line-height:25px;color:#4b3ba6;text-align:left;">Hannah Shaw</div>
<div class="t" style="left:1987.90px;top:1216.00px;font-size:25px;line-height:25px;color:#111827;letter-spacing:0.241px;text-align:left;">Business Development Executive</div>
<div class="t" style="left:2475.90px;top:1216.00px;font-size:25px;line-height:25px;color:#111827;letter-spacing:0.025px;text-align:left;">Richard Burke</div>
<div style="position:absolute;left:983px;top:1371px;width:1946px;height:2px;background:#ebedf0"></div>
<div class="t" style="left:1023.10px;top:1312.00px;font-size:25px;line-height:25px;color:#111827;text-align:left;">0</div>
<div class="t" style="left:1048.10px;top:1312.00px;font-size:25px;line-height:25px;color:#111827;text-align:left;">5</div>
<svg style="position:absolute;left:1000px;top:1276px" width="70" height="96" viewBox="1000 1276 70 96"><g fill="none" stroke="#111827"><path d="M1019.8,1316.2 V1333.0" stroke-width="2.2"/><path d="M1019.6,1317.1 L1015.5,1320.8" stroke-width="2.2" stroke-linecap="round"/><path d="M1044.2,1316.2 V1333.0" stroke-width="2.2"/><path d="M1044.0,1317.1 L1039.9,1320.8" stroke-width="2.2" stroke-linecap="round"/></g></svg>
<div class="t" style="left:1501.90px;top:1312.00px;font-size:25px;line-height:25px;color:#4b3ba6;text-align:left;">Tarun Khana</div>
<div class="t" style="left:1987.90px;top:1312.00px;font-size:25px;line-height:25px;color:#111827;letter-spacing:0.241px;text-align:left;">Business Development Executive</div>
<div class="t" style="left:2475.90px;top:1312.00px;font-size:25px;line-height:25px;color:#111827;text-align:left;">Mark Scottfield</div>
<div style="position:absolute;left:983px;top:1467px;width:1946px;height:2px;background:#ebedf0"></div>
<div class="t" style="left:1023.10px;top:1408.00px;font-size:25px;line-height:25px;color:#111827;text-align:left;">0</div>
<div class="t" style="left:1048.10px;top:1408.00px;font-size:25px;line-height:25px;color:#111827;text-align:left;">6</div>
<svg style="position:absolute;left:1000px;top:1372px" width="70" height="96" viewBox="1000 1372 70 96"><g fill="none" stroke="#111827"><path d="M1019.8,1412.2 V1429.0" stroke-width="2.2"/><path d="M1019.6,1413.1 L1015.5,1416.8" stroke-width="2.2" stroke-linecap="round"/><path d="M1044.2,1412.2 V1429.0" stroke-width="2.2"/><path d="M1044.0,1413.1 L1039.9,1416.8" stroke-width="2.2" stroke-linecap="round"/></g></svg>
<div class="t" style="left:1500.90px;top:1408.00px;font-size:25px;line-height:25px;color:#4b3ba6;text-align:left;">Sarah Jayne</div>
<div class="t" style="left:1987.90px;top:1408.00px;font-size:25px;line-height:25px;color:#111827;letter-spacing:0.241px;text-align:left;">Business Development Executive</div>
<div class="t" style="left:2475.90px;top:1408.00px;font-size:25px;line-height:25px;color:#111827;letter-spacing:0.025px;text-align:left;">Richard Burke</div>
<div style="position:absolute;left:983px;top:1563px;width:1946px;height:2px;background:#ebedf0"></div>
<div class="t" style="left:1023.10px;top:1504.00px;font-size:25px;line-height:25px;color:#111827;text-align:left;">0</div>
<div class="t" style="left:1048.10px;top:1504.00px;font-size:25px;line-height:25px;color:#111827;text-align:left;">7</div>
<svg style="position:absolute;left:1000px;top:1468px" width="70" height="96" viewBox="1000 1468 70 96"><g fill="none" stroke="#111827"><path d="M1019.8,1508.2 V1525.0" stroke-width="2.2"/><path d="M1019.6,1509.1 L1015.5,1512.8" stroke-width="2.2" stroke-linecap="round"/><path d="M1044.2,1508.2 V1525.0" stroke-width="2.2"/><path d="M1044.0,1509.1 L1039.9,1512.8" stroke-width="2.2" stroke-linecap="round"/></g></svg>
<div class="t" style="left:1501.90px;top:1504.00px;font-size:25px;line-height:25px;color:#4b3ba6;text-align:left;">Ashish Chatterjee</div>
<div class="t" style="left:1987.90px;top:1504.00px;font-size:25px;line-height:25px;color:#111827;letter-spacing:0.241px;text-align:left;">Business Development Executive</div>
<div class="t" style="left:2475.90px;top:1504.00px;font-size:25px;line-height:25px;color:#111827;letter-spacing:0.025px;text-align:left;">Richard Burke</div>
<div style="position:absolute;left:983px;top:1659px;width:1946px;height:2px;background:#ebedf0"></div>
<div class="t" style="left:1023.10px;top:1600.00px;font-size:25px;line-height:25px;color:#111827;text-align:left;">0</div>
<div class="t" style="left:1048.10px;top:1600.00px;font-size:25px;line-height:25px;color:#111827;text-align:left;">8</div>
<svg style="position:absolute;left:1000px;top:1564px" width="70" height="96" viewBox="1000 1564 70 96"><g fill="none" stroke="#111827"><path d="M1019.8,1604.2 V1621.0" stroke-width="2.2"/><path d="M1019.6,1605.1 L1015.5,1608.8" stroke-width="2.2" stroke-linecap="round"/><path d="M1044.2,1604.2 V1621.0" stroke-width="2.2"/><path d="M1044.0,1605.1 L1039.9,1608.8" stroke-width="2.2" stroke-linecap="round"/></g></svg>
<div class="t" style="left:1499.90px;top:1600.00px;font-size:25px;line-height:25px;color:#4b3ba6;text-align:left;">Rajesh Kumar</div>
<div class="t" style="left:1987.90px;top:1600.00px;font-size:25px;line-height:25px;color:#111827;letter-spacing:0.241px;text-align:left;">Business Development Executive</div>
<div class="t" style="left:2475.90px;top:1600.00px;font-size:25px;line-height:25px;color:#111827;letter-spacing:0.025px;text-align:left;">Richard Burke</div>
<div style="position:absolute;left:983px;top:1755px;width:1946px;height:2px;background:#ebedf0"></div>
<div class="t" style="left:1023.10px;top:1696.00px;font-size:25px;line-height:25px;color:#111827;text-align:left;">0</div>
<div class="t" style="left:1048.10px;top:1696.00px;font-size:25px;line-height:25px;color:#111827;text-align:left;">9</div>
<svg style="position:absolute;left:1000px;top:1660px" width="70" height="96" viewBox="1000 1660 70 96"><g fill="none" stroke="#111827"><path d="M1019.8,1700.2 V1717.0" stroke-width="2.2"/><path d="M1019.6,1701.1 L1015.5,1704.8" stroke-width="2.2" stroke-linecap="round"/><path d="M1044.2,1700.2 V1717.0" stroke-width="2.2"/><path d="M1044.0,1701.1 L1039.9,1704.8" stroke-width="2.2" stroke-linecap="round"/></g></svg>
<div class="t" style="left:1499.90px;top:1696.00px;font-size:25px;line-height:25px;color:#4b3ba6;text-align:left;">Priya Sharma</div>
<div class="t" style="left:1987.90px;top:1696.00px;font-size:25px;line-height:25px;color:#111827;letter-spacing:0.241px;text-align:left;">Business Development Executive</div>
<div class="t" style="left:2475.90px;top:1696.00px;font-size:25px;line-height:25px;color:#111827;letter-spacing:0.025px;text-align:left;">Richard Burke</div>
<div style="position:absolute;left:1466px;top:832px;width:2px;height:851px;background:#ebedf0"></div>
<div style="position:absolute;left:1954px;top:832px;width:2px;height:851px;background:#ebedf0"></div>
<div style="position:absolute;left:2442px;top:832px;width:2px;height:851px;background:#ebedf0"></div>
<div style="position:absolute;left:983px;top:891px;width:1946px;height:2px;background:#ebedf0"></div>
<div style="position:absolute;left:1181px;top:602px;width:228.5px;height:95px;border:8px solid #6a4ff5;border-radius:13px;box-sizing:border-box"></div>
<div style="position:absolute;left:995px;top:724px;width:403px;height:110px;border:8px solid #6a4ff5;border-radius:13px;box-sizing:border-box"></div>
<div style="position:absolute;left:2836px;top:1555px;width:96px;height:96px;background:#3c4152;border-radius:15px"></div>
<svg style="position:absolute;left:2836px;top:1555px" width="96" height="96" viewBox="2836 1555 96 96">
<g fill="#f7f8fa">
<path d="M2866.5,1578 Q2867.2,1584.2 2873.5,1584.8 Q2867.2,1585.4 2866.5,1591.6 Q2865.8,1585.4 2859.5,1584.8 Q2865.8,1584.2 2866.5,1578 Z"/>
<path d="M2900,1579 Q2901,1586.2 2908,1587.3 Q2901,1588.4 2900,1595.6 Q2899,1588.4 2892,1587.3 Q2899,1586.2 2900,1579 Z"/>
<path d="M2867,1604.8 Q2867.4,1608.4 2871,1608.8 Q2867.4,1609.2 2867,1612.8 Q2866.6,1609.2 2863,1608.8 Q2866.6,1608.4 2867,1604.8 Z"/>
</g>
<path d="M2879.4,1596.2 L2898.8,1622.8" stroke="#f7f8fa" stroke-width="5" stroke-linecap="round"/>
<path d="M2880.4,1597.5 L2882.3,1600.1" stroke="#3c4152" stroke-width="1.5" stroke-linecap="round"/>
</svg>
<div style="position:absolute;left:2972px;top:0px;width:10px;height:1683px;background:#f1f2f5"></div>
<div style="position:absolute;left:2974px;top:1px;width:8px;height:486px;background:#868f9c;border-radius:4px"></div>
</div>
</body></html>
